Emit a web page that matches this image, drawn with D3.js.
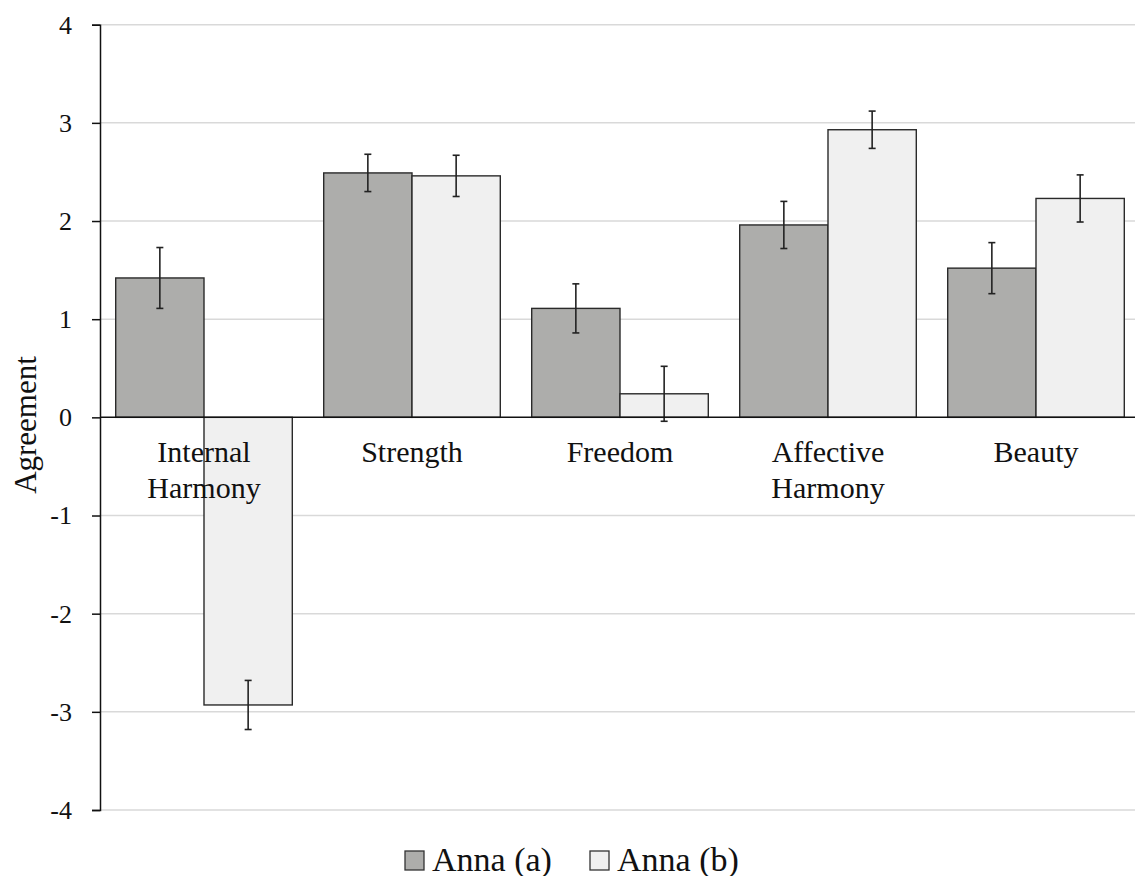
<!DOCTYPE html>
<html>
<head>
<meta charset="utf-8">
<script src="https://cdn.jsdelivr.net/npm/d3@7"></script>
<style>
  body { margin: 0; background: #fff; }
  svg text { font-family: "Liberation Serif", "DejaVu Serif", serif; fill: #111; }
</style>
</head>
<body>
<svg id="chart" width="1135" height="876"></svg>
<script>
// DATA
const categories = ["Internal Harmony", "Strength", "Freedom", "Affective Harmony", "Beauty"];
const categoryLines = [["Internal", "Harmony"], ["Strength"], ["Freedom"], ["Affective", "Harmony"], ["Beauty"]];
const seriesNames = ["Anna (a)", "Anna (b)"];
const annaA = [1.42, 2.49, 1.11, 1.96, 1.52];
const annaB = [-2.93, 2.46, 0.24, 2.93, 2.23];
const errA = [0.31, 0.19, 0.25, 0.24, 0.26];
const errB = [0.25, 0.21, 0.28, 0.19, 0.24];
const yTicks = [-4, -3, -2, -1, 0, 1, 2, 3, 4];

const colors = ["#adadab", "#f0f0f0"];

const svg = d3.select("#chart");
const margin = {left: 100, top: 24.7, right: -5, bottom: 66};
const width = 1135 - margin.left - margin.right;   // 1040, plot runs past the window edge
const height = 810 - margin.top;

const g = svg.append("g").attr("transform", "translate(" + margin.left + "," + margin.top + ")");

// SCALES
const x0 = d3.scaleBand().domain(categories).range([0, width])
  .paddingInner(0.151).paddingOuter(0.0755);
const x1 = d3.scaleBand().domain(seriesNames).range([0, x0.bandwidth()]);
const y = d3.scaleLinear().domain([-4, 4]).range([height, 0]);

// gridlines
g.append("g").selectAll("line")
  .data(yTicks.filter(d => d !== 0))
  .join("line")
  .attr("x1", 0).attr("x2", width)
  .attr("y1", d => y(d)).attr("y2", d => y(d))
  .attr("stroke", "#d9d9d9").attr("stroke-width", 1.5);

// bars
const rows = categories.map((c, i) => ({
  cat: c,
  vals: [
    {name: seriesNames[0], v: annaA[i], e: errA[i], c: colors[0]},
    {name: seriesNames[1], v: annaB[i], e: errB[i], c: colors[1]}
  ]
}));

const groups = g.selectAll(".grp").data(rows).join("g")
  .attr("class", "grp")
  .attr("transform", d => "translate(" + x0(d.cat) + ",0)");

groups.selectAll("rect").data(d => d.vals).join("rect")
  .attr("x", d => x1(d.name))
  .attr("width", x1.bandwidth())
  .attr("y", d => y(Math.max(0, d.v)))
  .attr("height", d => Math.abs(y(d.v) - y(0)))
  .attr("fill", d => d.c)
  .attr("stroke", "#2a2a2a").attr("stroke-width", 1.4);

// error bars
const eb = groups.selectAll(".err").data(d => d.vals).join("g").attr("class", "err")
  .attr("transform", d => "translate(" + (x1(d.name) + x1.bandwidth() / 2) + ",0)")
  .attr("stroke", "#222").attr("stroke-width", 1.6);
eb.append("line").attr("x1", 0).attr("x2", 0)
  .attr("y1", d => y(d.v + d.e)).attr("y2", d => y(d.v - d.e));
eb.append("line").attr("x1", -3.5).attr("x2", 3.5)
  .attr("y1", d => y(d.v + d.e)).attr("y2", d => y(d.v + d.e));
eb.append("line").attr("x1", -3.5).attr("x2", 3.5)
  .attr("y1", d => y(d.v - d.e)).attr("y2", d => y(d.v - d.e));

// zero line
g.append("line")
  .attr("x1", 0).attr("x2", width)
  .attr("y1", y(0)).attr("y2", y(0))
  .attr("stroke", "#111").attr("stroke-width", 1.5);

// Y AXIS
const yAxis = d3.axisLeft(y).tickValues(yTicks).tickSize(8).tickPadding(20)
  .tickFormat(d => String(d));
const ya = g.append("g").call(yAxis);
ya.select(".domain").attr("stroke", "#111").attr("stroke-width", 1.5);
ya.selectAll(".tick line").attr("stroke", "#111").attr("stroke-width", 1.5);
ya.selectAll(".tick text")
  .style("font-size", "26px")
  .attr("fill", "#111");

// category labels
const labs = g.selectAll(".cat").data(rows).join("text")
  .attr("class", "cat")
  .attr("x", d => x0(d.cat) + x0.bandwidth() / 2)
  .attr("y", y(0) + 45)
  .attr("text-anchor", "middle")
  .style("font-size", "30px");
labs.each(function (d, i) {
  d3.select(this).selectAll("tspan").data(categoryLines[i]).join("tspan")
    .attr("x", x0(d.cat) + x0.bandwidth() / 2)
    .attr("dy", (t, j) => j === 0 ? 0 : 36)
    .text(t => t);
});

// y title
svg.append("text")
  .attr("transform", "translate(36,425) rotate(-90)")
  .attr("text-anchor", "middle")
  .style("font-size", "31px")
  .text("Agreement");

// LEGEND
const legend = svg.append("g").attr("transform", "translate(405,851)");
const legX = [0, 185];
seriesNames.forEach((s, i) => {
  const lg = legend.append("g").attr("transform", "translate(" + legX[i] + ",0)");
  lg.append("rect").attr("width", 19).attr("height", 19)
    .attr("fill", colors[i]).attr("stroke", "#333").attr("stroke-width", 1.3);
  lg.append("text").attr("x", 27).attr("y", 19.5)
    .style("font-size", "34px")
    .text(s);
});
</script>
</body>
</html>
